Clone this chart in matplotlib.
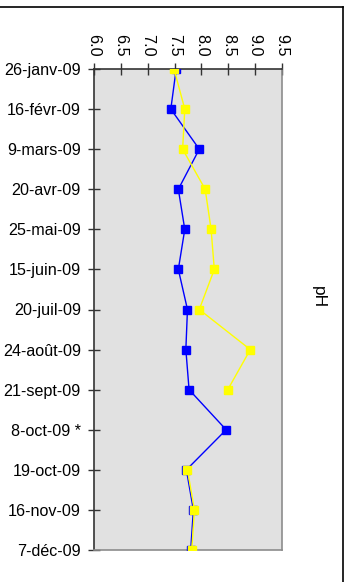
import numpy as np
import matplotlib
matplotlib.use("Agg")
import matplotlib.pyplot as plt
from matplotlib.lines import Line2D

plt.rcParams["font.family"] = ["Liberation Sans", "DejaVu Sans"]

# sampling dates (category axis, top to bottom)
dates = ["26-janv-09", "16-févr-09", "9-mars-09", "20-avr-09", "25-mai-09",
         "15-juin-09", "20-juil-09", "24-août-09", "21-sept-09", "8-oct-09 *",
         "19-oct-09", "16-nov-09", "7-déc-09"]

# pH values, two stations
ph_blue = [7.53, 7.43, 7.96, 7.57, 7.69, 7.57, 7.74, 7.71, 7.77, 8.46, 7.72, 7.85, 7.80]
ph_yellow = [7.49, 7.69, 7.65, 8.07, 8.18, 8.24, 7.96, 8.91, 8.49, np.nan, 7.74, 7.87, 7.82]

ph_ticks = [6.0, 6.5, 7.0, 7.5, 8.0, 8.5, 9.0, 9.5]

W, H = 351, 582
fig = plt.figure(figsize=(W / 100, H / 100), dpi=100)
ax = fig.add_axes([94 / W, 1 - 550 / H, 188 / W, 481 / H])
ax.set_facecolor("#e1e1e1")

pos = np.arange(len(dates))
ax.plot(ph_blue, pos, color="#0000ff", lw=1.0, marker="s", ms=6,
        mec="#0000ff", mfc="#0000ff", zorder=3)
ax.plot(ph_yellow, pos, color="#ffff00", lw=1.0, marker="s", ms=6,
        mec="#ffff00", mfc="#ffff00", zorder=4)

ax.set_xlim(6.0, 9.5)
ax.set_ylim(len(dates) - 1, 0)
ax.set_yticks(pos)
ax.set_yticklabels(dates, fontsize=11.6)
ax.set_xticks(ph_ticks)
ax.set_xticklabels([f"{t:.1f}" for t in ph_ticks], rotation=-90, fontsize=11.6)
ax.xaxis.tick_top()

ax.tick_params(axis="both", direction="inout", length=8, width=1, color="#333333")
ax.tick_params(axis="y", pad=5.5)
ax.tick_params(axis="x", pad=5)

for side in ("top", "left"):
    ax.spines[side].set_color("#333333")
    ax.spines[side].set_linewidth(1.2)
for side in ("right", "bottom"):
    ax.spines[side].set_color("#8c8c8c")
    ax.spines[side].set_linewidth(1.2)

fig.text(318 / W, 1 - 297 / H, "pH", rotation=-90, fontsize=12.5,
         ha="center", va="center")

# outer frame pieces
fig.add_artist(Line2D([0, 343 / W], [1 - 6.5 / H, 1 - 6.5 / H],
                      transform=fig.transFigure, color="black", lw=1.2))
fig.add_artist(Line2D([343 / W, 343 / W], [1 - 6.5 / H, 0],
                      transform=fig.transFigure, color="black", lw=1.2))

fig.savefig("out.png", dpi=100)
